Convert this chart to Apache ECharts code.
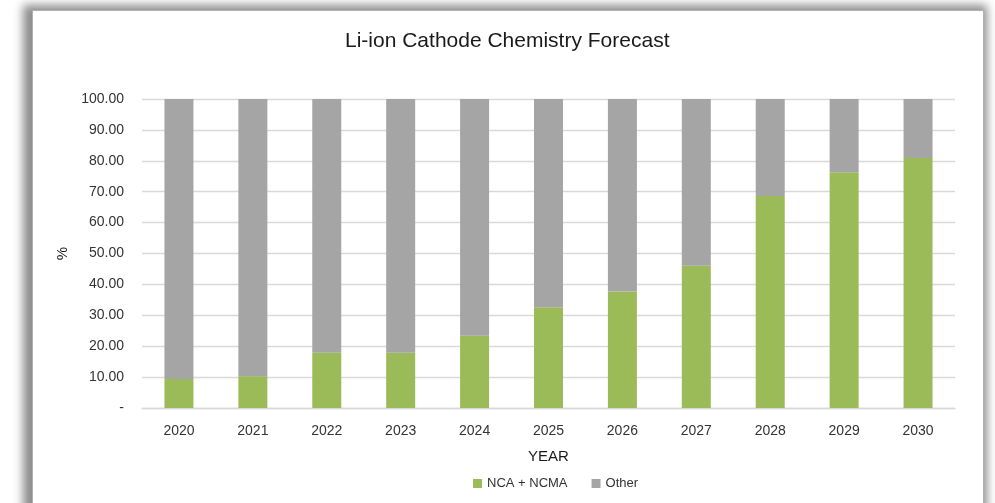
<!DOCTYPE html>
<html>
<head>
<meta charset="utf-8">
<script src="https://cdn.jsdelivr.net/npm/echarts@6/dist/echarts.min.js"></script>
<style>
  html, body { margin: 0; padding: 0; background: #ffffff; width: 995px; height: 503px; overflow: hidden; }
  #frame { position: absolute; left: 32px; top: 10px; width: 950px; height: 560px; background: #ffffff;
           border: 1px solid #b0b0b0; box-shadow: -3px 1px 9px 6px rgba(0,0,0,0.45); }
  #chart { position: absolute; left: 0; top: 0; width: 995px; height: 503px; }
</style>
</head>
<body>
<div id="frame"></div>
<div id="chart"></div>
<script>
const titleText = 'Li-ion Cathode Chemistry Forecast';
const years = ['2020','2021','2022','2023','2024','2025','2026','2027','2028','2029','2030'];
const ncaNcma = [9.4, 10.3, 17.9, 17.9, 23.4, 32.6, 37.7, 46.0, 68.6, 76.3, 80.9];
const other = [90.6, 89.7, 82.1, 82.1, 76.6, 67.4, 62.3, 54.0, 31.4, 23.7, 19.1];
const seriesNames = ['NCA + NCMA', 'Other'];
const xAxisName = 'YEAR';
const yAxisName = '%';

const FONT = "'Liberation Sans', Arial, sans-serif";
const chart = echarts.init(document.getElementById('chart'), null, { renderer: 'canvas' });
chart.setOption({
  animation: false,
  backgroundColor: 'transparent',
  textStyle: { fontFamily: FONT },
  title: {
    text: titleText, left: 340, top: 26,
    textStyle: { fontFamily: FONT, fontSize: 21, fontWeight: 'normal', color: '#1a1a1a' }
  },
  legend: {
    data: seriesNames, left: 468, top: 472, itemWidth: 9, itemHeight: 9, itemGap: 24,
    icon: 'rect',
    textStyle: { fontFamily: FONT, fontSize: 13, color: '#333333' }
  },
  grid: { left: 142, right: 40, top: 99, bottom: 95, containLabel: false },
  xAxis: {
    type: 'category', data: years,
    name: xAxisName, nameLocation: 'middle', nameGap: 41,
    nameTextStyle: { fontFamily: FONT, fontSize: 15, color: '#1a1a1a' },
    axisLine: { lineStyle: { color: '#d9d9d9', width: 1.3 } },
    axisTick: { show: false },
    axisLabel: { fontFamily: FONT, fontSize: 14, color: '#333333', margin: 16 }
  },
  yAxis: {
    type: 'value', min: 0, max: 100, interval: 10,
    name: yAxisName, nameLocation: 'middle', nameGap: 66, nameRotate: 90,
    nameTextStyle: { fontFamily: FONT, fontSize: 15, color: '#1a1a1a' },
    axisLine: { show: false }, axisTick: { show: false },
    splitLine: { lineStyle: { color: '#d9d9d9', width: 1.3 } },
    axisLabel: {
      fontFamily: FONT, fontSize: 14, color: '#333333', margin: 18,
      formatter: v => v === 0 ? '-' : v.toFixed(2)
    }
  },
  series: [
    { name: seriesNames[0], type: 'bar', stack: 'total', data: ncaNcma, barWidth: 29,
      itemStyle: { color: '#9BBB59' } },
    { name: seriesNames[1], type: 'bar', stack: 'total', data: other, barWidth: 29,
      itemStyle: { color: '#A5A5A5' } }
  ]
});
</script>
</body>
</html>
